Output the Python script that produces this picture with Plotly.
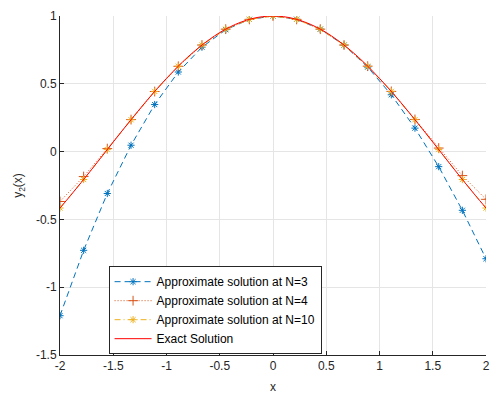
import plotly.graph_objects as go

# Collocation nodes and approximate solutions
x_nodes = [-2.0, -1.778, -1.556, -1.333, -1.111, -0.889, -0.667, -0.444, -0.222, 0.0,
           0.222, 0.444, 0.667, 0.889, 1.111, 1.333, 1.556, 1.778, 2.0]
y_n3 = [-1.21, -0.728, -0.309, 0.047, 0.347, 0.587, 0.770, 0.899, 0.975, 1.0,
        0.976, 0.903, 0.785, 0.623, 0.419, 0.173, -0.111, -0.433, -0.790]
y_n4 = [-0.368, -0.184, 0.022, 0.236, 0.443, 0.629, 0.786, 0.903, 0.975, 1.0,
        0.975, 0.903, 0.786, 0.630, 0.444, 0.237, 0.026, -0.177, -0.352]
y_n10 = [-0.416, -0.206, 0.015, 0.235, 0.444, 0.630, 0.786, 0.903, 0.975, 1.0,
         0.975, 0.903, 0.786, 0.630, 0.444, 0.235, 0.015, -0.206, -0.416]

# Exact solution sampled on a fine grid
x_exact = [-2.0, -1.9, -1.8, -1.7, -1.6, -1.5, -1.4, -1.3, -1.2, -1.1, -1.0,
           -0.9, -0.8, -0.7, -0.6, -0.5, -0.4, -0.3, -0.2, -0.1, 0.0,
           0.1, 0.2, 0.3, 0.4, 0.5, 0.6, 0.7, 0.8, 0.9, 1.0,
           1.1, 1.2, 1.3, 1.4, 1.5, 1.6, 1.7, 1.8, 1.9, 2.0]
y_exact = [-0.416, -0.323, -0.227, -0.129, -0.029, 0.071, 0.170, 0.267, 0.362, 0.454, 0.540,
           0.622, 0.697, 0.765, 0.825, 0.878, 0.921, 0.955, 0.980, 0.995, 1.000,
           0.995, 0.980, 0.955, 0.921, 0.878, 0.825, 0.765, 0.697, 0.622, 0.540,
           0.454, 0.362, 0.267, 0.170, 0.071, -0.029, -0.129, -0.227, -0.323, -0.416]

x_ticks = [-2, -1.5, -1, -0.5, 0, 0.5, 1, 1.5, 2]
x_ticklabels = ["-2", "-1.5", "-1", "-0.5", "0", "0.5", "1", "1.5", "2"]
y_ticks = [-1.5, -1, -0.5, 0, 0.5, 1]
y_ticklabels = ["-1.5", "-1", "-0.5", "0", "0.5", "1"]

BLUE = "#0072BD"
ORANGE = "#D95319"
YELLOW = "#EDB120"
RED = "#FF0000"
AXIS = "#262626"
FONT = "Liberation Sans, Arial, Helvetica, sans-serif"

fig = go.Figure()
fig.add_trace(go.Scatter(
    x=x_nodes, y=y_n3, mode="lines+markers",
    name="Approximate solution at N=3",
    line=dict(color=BLUE, width=1, dash="6px,4px"),
    marker=dict(symbol="asterisk-open", size=6, color=BLUE, line=dict(color=BLUE, width=1)),
))
fig.add_trace(go.Scatter(
    x=x_nodes, y=y_n4, mode="lines+markers",
    name="Approximate solution at N=4",
    line=dict(color=ORANGE, width=1, dash="1px,2px"),
    marker=dict(symbol="cross-thin-open", size=7, color=ORANGE, line=dict(color=ORANGE, width=1)),
))
fig.add_trace(go.Scatter(
    x=x_nodes, y=y_n10, mode="lines+markers",
    name="Approximate solution at N=10",
    line=dict(color=YELLOW, width=1, dash="6px,3px,1px,3px"),
    marker=dict(symbol="asterisk-open", size=6, color=YELLOW, line=dict(color=YELLOW, width=1)),
))
fig.add_trace(go.Scatter(
    x=x_exact, y=y_exact, mode="lines",
    name="Exact Solution",
    line=dict(color=RED, width=1, shape="spline"),
))

fig.update_layout(
    width=492, height=394,
    margin=dict(l=60, r=2, t=15.5, b=38.3),
    paper_bgcolor="white", plot_bgcolor="white",
    font=dict(family=FONT, size=12, color=AXIS),
    showlegend=True,
    legend=dict(
        x=0.114, y=0.262, xanchor="left", yanchor="top",
        bgcolor="white", bordercolor=AXIS, borderwidth=1,
        font=dict(family=FONT, size=12, color="#000000"),
        tracegroupgap=0, itemwidth=37,
    ),
)
fig.update_xaxes(
    range=[-2, 2], tickvals=x_ticks, ticktext=x_ticklabels,
    ticklabeloverflow="allow",
    showgrid=True, gridcolor="#E5E5E5", gridwidth=1,
    zeroline=False, showline=True, linecolor=AXIS, linewidth=1, mirror=False,
    ticks="inside", ticklen=4, tickcolor=AXIS,
    title=dict(text="x", standoff=10, font=dict(family=FONT, size=12, color=AXIS)),
)
fig.update_yaxes(
    range=[-1.5, 1], tickvals=y_ticks, ticktext=y_ticklabels,
    showgrid=True, gridcolor="#E5E5E5", gridwidth=1,
    zeroline=False, showline=True, linecolor=AXIS, linewidth=1, mirror=False,
    ticks="inside", ticklen=4, tickcolor=AXIS,
    title=dict(text="y<sub>2</sub>(x)", standoff=10, font=dict(family=FONT, size=12, color=AXIS)),
)

fig.write_html("out.html")
